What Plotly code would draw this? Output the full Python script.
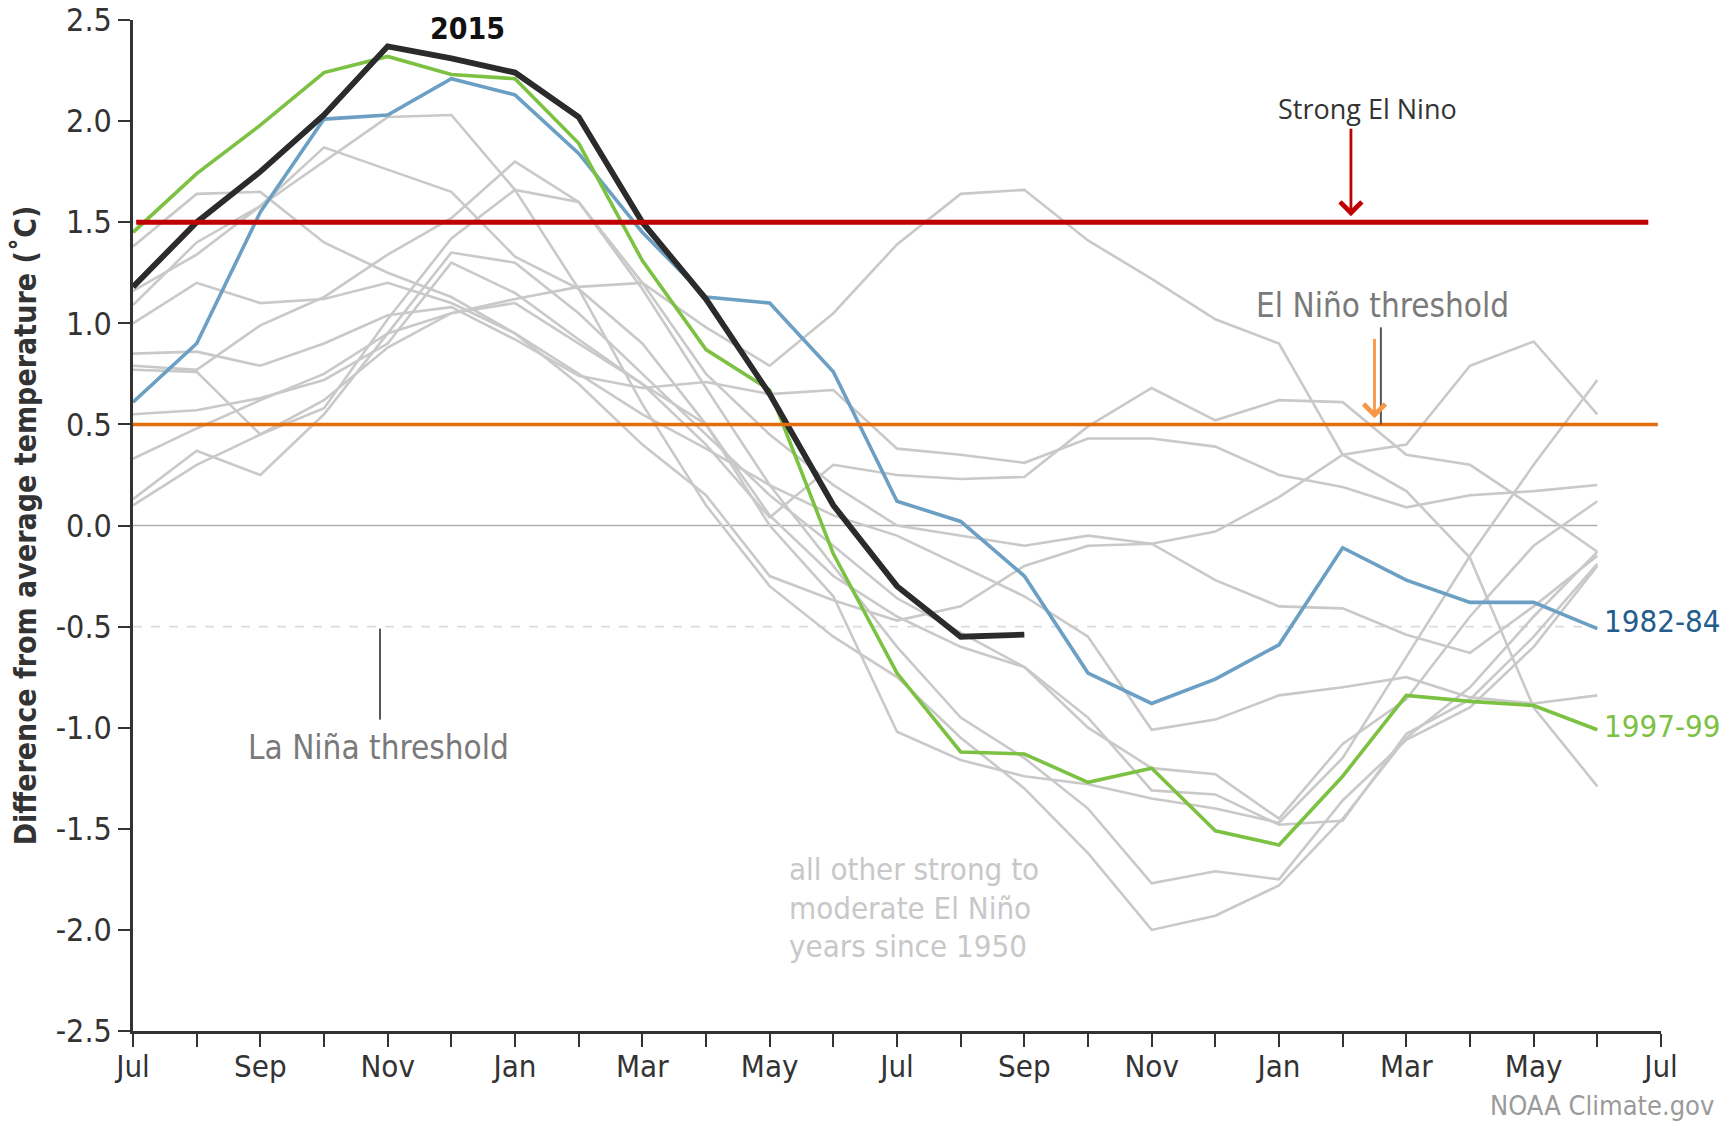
import plotly.graph_objects as go

# ---------------- data ----------------
month_names = ["Jul", "Aug", "Sep", "Oct", "Nov", "Dec", "Jan", "Feb", "Mar", "Apr", "May", "Jun"] * 2 + ["Jul"]
tick_positions = list(range(len(month_names)))
tick_labels = [m if i % 2 == 0 else "" for i, m in enumerate(month_names)]
y_tick_values = [2.5, 2.0, 1.5, 1.0, 0.5, 0.0, -0.5, -1.0, -1.5, -2.0, -2.5]
y_tick_labels = ["2.5", "2.0", "1.5", "1.0", "0.5", "0.0", "-0.5", "-1.0", "-1.5", "-2.0", "-2.5"]

months_24 = list(range(24))

nino_2015 = [1.18, 1.50, 1.75, 2.03, 2.37, 2.31, 2.24, 2.02, 1.50, 1.12, 0.65, 0.10,
             -0.30, -0.55, -0.54]
nino_1982_84 = [0.61, 0.90, 1.55, 2.01, 2.03, 2.21, 2.13, 1.84, 1.45, 1.13, 1.10, 0.76,
                0.12, 0.02, -0.25, -0.73, -0.88, -0.76, -0.59, -0.11, -0.27, -0.38, -0.38, -0.51]
nino_1997_99 = [1.45, 1.74, 1.98, 2.24, 2.32, 2.23, 2.21, 1.89, 1.31, 0.87, 0.67, -0.14,
                -0.73, -1.12, -1.13, -1.27, -1.20, -1.51, -1.58, -1.24, -0.84, -0.87, -0.89, -1.01]

gray_1 = [1.38, 1.64, 1.65, 1.40, 1.25, 1.13, 0.95, 0.75, 0.55, 0.38, 0.20, 0.05,
          -0.05, -0.20, -0.35, -0.55, -1.01, -0.96, -0.84, -0.80, -0.75, -0.85, -0.88, -0.84]
gray_2 = [1.16, 1.34, 1.58, 1.80, 2.02, 2.03, 1.66, 1.17, 0.60, 0.10, -0.30, -0.55,
          -0.75, -1.05, -1.30, -1.62, -2.00, -1.93, -1.78, -1.45, -1.05, -0.80, -0.45, -0.13]
gray_3 = [1.09, 1.40, 1.58, 1.87, 1.76, 1.65, 1.33, 1.17, 0.90, 0.50, 0.05, -0.25,
          -0.45, -0.60, -0.70, -0.95, -1.31, -1.33, -1.48, -1.46, -1.03, -0.86, -0.55, -0.19]
gray_4 = [0.79, 0.77, 0.99, 1.13, 1.34, 1.52, 1.80, 1.60, 1.20, 0.75, 0.45, 0.20,
          0.00, -0.05, -0.10, -0.05, -0.09, -0.03, 0.14, 0.35, 0.40, 0.79, 0.91, 0.55]
gray_5 = [0.85, 0.86, 0.79, 0.90, 1.04, 1.08, 0.92, 0.74, 0.68, 0.71, 0.65, 0.67,
          0.38, 0.35, 0.31, 0.43, 0.43, 0.39, 0.25, 0.19, 0.09, 0.15, 0.17, 0.20]
gray_6 = [0.55, 0.57, 0.63, 0.72, 0.90, 1.30, 1.15, 0.92, 0.70, 0.40, 0.04, 0.30,
          0.25, 0.23, 0.24, 0.49, 0.68, 0.52, 0.62, 0.61, 0.35, 0.30, 0.09, -0.13]
gray_7 = [0.77, 0.76, 0.45, 0.58, 1.02, 1.42, 1.66, 1.60, 1.17, 0.68, 0.20, -0.20,
          -0.60, -0.95, -1.15, -1.40, -1.77, -1.71, -1.75, -1.36, -1.06, -0.90, -0.60, -0.20]
gray_8 = [0.33, 0.48, 0.62, 0.75, 0.95, 1.05, 1.12, 1.18, 1.20, 0.98, 0.79, 1.05,
          1.39, 1.64, 1.66, 1.41, 1.22, 1.02, 0.90, 0.35, 0.17, -0.16, -0.90, -1.29]
gray_9 = [0.13, 0.37, 0.25, 0.55, 0.95, 1.35, 1.30, 1.05, 0.75, 0.45, 0.15, -0.10,
          -0.36, -0.53, -0.70, -1.00, -1.20, -1.23, -1.45, -1.08, -0.86, -0.45, -0.10, 0.12]
gray_10 = [0.10, 0.30, 0.45, 0.62, 0.88, 1.05, 1.10, 0.90, 0.70, 0.50, 0.00, -0.35,
           -1.02, -1.16, -1.24, -1.28, -1.35, -1.40, -1.47, -1.15, -0.65, -0.15, 0.30, 0.72]
gray_11 = [1.00, 1.20, 1.10, 1.12, 1.20, 1.10, 0.95, 0.70, 0.40, 0.15, -0.25, -0.37,
           -0.47, -0.40, -0.20, -0.10, -0.09, -0.27, -0.40, -0.41, -0.54, -0.63, -0.40, -0.15]
gray_series = [gray_1, gray_2, gray_3, gray_4, gray_5, gray_6, gray_7, gray_8, gray_9, gray_10, gray_11]

strong_threshold = 1.5
el_nino_threshold = 0.5
la_nina_threshold = -0.5

other_years_text = ["all other strong to", "moderate El Niño", "years since 1950"]
other_years_y = [-1.70, -1.89, -2.08]

# ---------------- figure ----------------
FONT = "DejaVu Sans Condensed, DejaVu Sans, sans-serif"
fig = go.Figure()

# zero line and La Nina dashed line (only as long as the data)
fig.add_shape(type="line", x0=0, x1=23, y0=0, y1=0, xref="x", yref="y",
              line=dict(color="#b0b0b0", width=1.6), layer="below")
fig.add_shape(type="line", x0=0, x1=23, y0=la_nina_threshold, y1=la_nina_threshold,
              xref="x", yref="y", line=dict(color="#dcdcdc", width=1.6, dash="dash"), layer="below")

for g in gray_series:
    fig.add_trace(go.Scatter(x=months_24[:len(g)], y=g, mode="lines",
                             line=dict(color="#c9c9c9", width=2.6), hoverinfo="skip", showlegend=False))

fig.add_trace(go.Scatter(x=months_24[:len(nino_1982_84)], y=nino_1982_84, mode="lines",
                         line=dict(color="#6b9fc3", width=3.6), showlegend=False))
fig.add_trace(go.Scatter(x=months_24[:len(nino_1997_99)], y=nino_1997_99, mode="lines",
                         line=dict(color="#7cc142", width=3.6), showlegend=False))
fig.add_trace(go.Scatter(x=months_24[:len(nino_2015)], y=nino_2015, mode="lines",
                         line=dict(color="#2b2b2b", width=5.8), showlegend=False))

# threshold lines
fig.add_shape(type="line", x0=0.05, x1=23.8, y0=strong_threshold, y1=strong_threshold,
              xref="x", yref="y", line=dict(color="#c00000", width=5), layer="above")
fig.add_shape(type="line", x0=0, x1=23.95, y0=el_nino_threshold, y1=el_nino_threshold,
              xref="x", yref="y", line=dict(color="#e46c0a", width=3.5), layer="above")
# gray pointer lines
fig.add_shape(type="line", x0=3.88, x1=3.88, y0=-0.51, y1=-0.96, xref="x", yref="y",
              line=dict(color="#555555", width=2))
fig.add_shape(type="line", x0=19.6, x1=19.6, y0=0.98, y1=0.5, xref="x", yref="y",
              line=dict(color="#555555", width=2))

# arrows
fig.add_annotation(x=19.13, y=1.53, ax=19.13, ay=1.97, xref="x", yref="y", axref="x", ayref="y",
                   text="", showarrow=True, arrowhead=4, arrowsize=1.5, arrowwidth=2.8, arrowcolor="#c00000")
fig.add_annotation(x=19.5, y=0.53, ax=19.5, ay=0.93, xref="x", yref="y", axref="x", ayref="y",
                   text="", showarrow=True, arrowhead=4, arrowsize=1.5, arrowwidth=2.8, arrowcolor="#f79646")

# texts
fig.add_annotation(x=5.25, y=2.46, xref="x", yref="y", text="<b>2015</b>", showarrow=False,
                   font=dict(family=FONT, size=30, color="#111111"))
fig.add_annotation(x=19.39, y=2.06, xref="x", yref="y", text="Strong El Nino", showarrow=False,
                   font=dict(family="Open Sans, sans-serif", size=27, color="#333333"))
fig.add_annotation(x=19.62, y=1.09, xref="x", yref="y", text="El Niño threshold", showarrow=False,
                   font=dict(family=FONT, size=33, color="#7a7a7a"))
fig.add_annotation(x=3.86, y=-1.10, xref="x", yref="y", text="La Niña threshold", showarrow=False,
                   font=dict(family=FONT, size=33, color="#7a7a7a"))
for line_text, yv in zip(other_years_text, other_years_y):
    fig.add_annotation(x=10.27, y=yv, xref="x", yref="y", xanchor="left", align="left",
                       text=line_text, showarrow=False,
                       font=dict(family=FONT, size=31, color="#c8c8c8"))
fig.add_annotation(x=23.08, y=-0.47, xref="x", yref="y", xanchor="left", text="1982-84", showarrow=False,
                   font=dict(family=FONT, size=31, color="#235d8c"))
fig.add_annotation(x=23.08, y=-0.99, xref="x", yref="y", xanchor="left", text="1997-99", showarrow=False,
                   font=dict(family=FONT, size=31, color="#7cc142"))
fig.add_annotation(x=1.036, y=-0.091, xref="paper", yref="paper", xanchor="right", yanchor="bottom",
                   text="NOAA Climate.gov", showarrow=False,
                   font=dict(family=FONT, size=27, color="#9a9a9a"))

# page body has an 8px default margin: figure is 8px smaller, left/top margins reduced by 8
fig.update_layout(
    width=1728, height=1117, autosize=False,
    margin=dict(l=125, r=75, t=12, b=94),
    paper_bgcolor="white", plot_bgcolor="white",
    font=dict(family=FONT, color="#333333"),
    xaxis=dict(range=[0, 24], tickvals=tick_positions, ticktext=tick_labels, automargin=False,
               showgrid=False, zeroline=False, showline=True, linecolor="#333333", linewidth=2.5,
               ticks="outside", ticklen=13, tickwidth=2, tickcolor="#333333", ticklabelstandoff=-7,
               ticklabeloverflow="allow",
               tickfont=dict(family=FONT, size=31, color="#333333")),
    yaxis=dict(range=[-2.5, 2.5], tickvals=y_tick_values, ticktext=y_tick_labels, automargin=False,
               showgrid=False, zeroline=False,
               showline=True, linecolor="#333333", linewidth=2.5,
               ticks="outside", ticklen=12, tickwidth=2, tickcolor="#333333",
               ticklabeloverflow="allow",
               tickfont=dict(family=FONT, size=32, color="#333333"),
               title=dict(text="Difference from average temperature (˚C)", standoff=22,
                          font=dict(family=FONT, size=30, color="#333333", weight="bold"))),
)

fig.write_html("out.html")
